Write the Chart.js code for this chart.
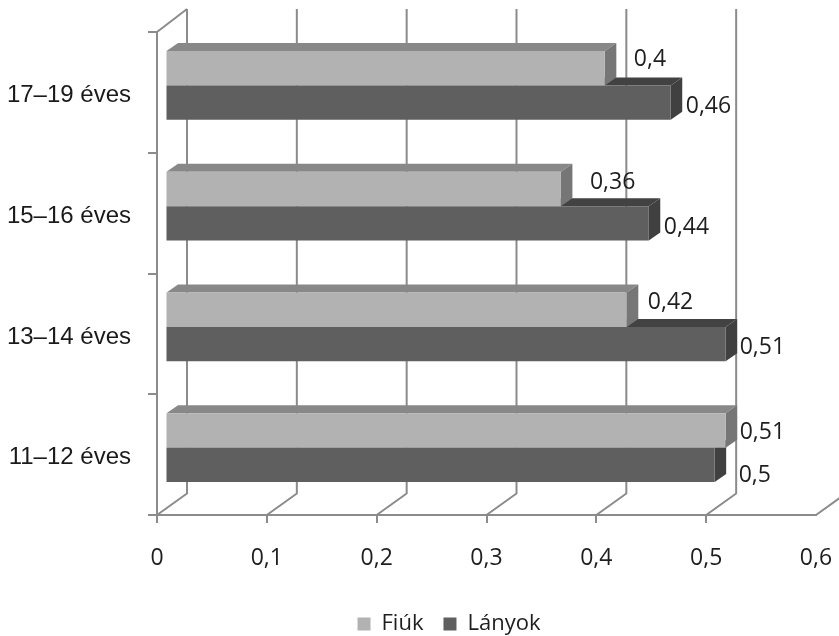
<!DOCTYPE html>
<html><head><meta charset="utf-8">
<style>html,body{margin:0;padding:0;background:#fff}canvas{display:block}</style>
<script src="https://cdn.jsdelivr.net/npm/chart.js@4"></script>
</head><body><canvas id="c" width="839" height="636"></canvas>
<script>
const categories = ['17–19 éves','15–16 éves','13–14 éves','11–12 éves'];
const fiuk = [0.4,0.36,0.42,0.51];
const lanyok = [0.46,0.44,0.51,0.5];
const xTicksMax = 0.6;

// 3D look, styling only
const wall = {dx:30, dy:-21.5, top:9};
const barShift = {dx:8.5, dy:-7};
const barDepth = {dx:11.5, dy:-8};
const lineColor = '#8b8b8b';
const legendShift = 41;
const faces = [
  {front:'#b2b2b2', top:'#888888', side:'#767676'},
  {front:'#5f5f5f', top:'#424242', side:'#404040'}
];
// data-label nudges from each bar's front right-centre: [dx, dy] per dataset/category
const labelNudge = [
  [[29,-9],[29,-6],[21,-7],[14,2]],
  [[15,4],[15,4],[14,3],[24,11]]
];
const labelFont = '23px "Open Sans"';
const fmt = v => String(Number(v.toFixed(2))).replace('.',',');

const threeD = {
  id:'threeD',
  afterLayout(chart){
    chart.legend.left += legendShift;
    chart.legend.right += legendShift;
  },
  beforeDatasetsDraw(chart){
    const {ctx,scales:{x,y},chartArea:a}=chart;
    ctx.save();
    ctx.strokeStyle=lineColor; ctx.lineWidth=2; ctx.lineJoin='round';
    const backY=a.bottom+wall.dy;
    // back wall + floor lines at every x tick
    x.ticks.forEach(t=>{
      const px=x.getPixelForValue(t.value);
      ctx.beginPath();
      ctx.moveTo(px,a.bottom);
      ctx.lineTo(px+wall.dx,backY);
      ctx.lineTo(px+wall.dx,wall.top);
      ctx.stroke();
    });
    // side-wall top edge
    ctx.beginPath();
    ctx.moveTo(a.left,a.top);
    ctx.lineTo(a.left+wall.dx,wall.top);
    ctx.stroke();
    ctx.restore();

    ctx.save();
    ctx.translate(barShift.dx,barShift.dy);
    // hidden faces first, lower series first so the upper one overlaps it
    for(let d=chart.data.datasets.length-1;d>=0;d--){
      const f=faces[d];
      chart.getDatasetMeta(d).data.forEach(b=>{
        const p=b.getProps(['x','y','base','height'],true);
        const t=p.y-p.height/2, bt=p.y+p.height/2;
        ctx.fillStyle=f.top;
        ctx.beginPath();
        ctx.moveTo(p.base,t);ctx.lineTo(p.base+barDepth.dx,t+barDepth.dy);
        ctx.lineTo(p.x+barDepth.dx,t+barDepth.dy);ctx.lineTo(p.x,t);ctx.closePath();ctx.fill();
        ctx.fillStyle=f.side;
        ctx.beginPath();
        ctx.moveTo(p.x,t);ctx.lineTo(p.x+barDepth.dx,t+barDepth.dy);
        ctx.lineTo(p.x+barDepth.dx,bt+barDepth.dy);ctx.lineTo(p.x,bt);ctx.closePath();ctx.fill();
      });
    }
    // the front faces are drawn by Chart.js in this shifted frame
  },
  afterDatasetsDraw(chart){
    const {ctx}=chart;
    ctx.restore();
    ctx.save();
    ctx.font=labelFont; ctx.fillStyle='#1e1e1e';
    ctx.textAlign='left'; ctx.textBaseline='middle';
    chart.data.datasets.forEach((ds,d)=>{
      chart.getDatasetMeta(d).data.forEach((b,i)=>{
        const p=b.getProps(['x','y'],true);
        const n=labelNudge[d][i];
        ctx.fillText(fmt(ds.data[i]),p.x+barShift.dx+n[0],p.y+barShift.dy+n[1]);
      });
    });
    ctx.restore();
  }
};

new Chart(document.getElementById('c'),{
  type:'bar',
  plugins:[threeD],
  data:{
    labels:categories,
    datasets:[
      {label:'Fiúk',data:fiuk,backgroundColor:faces[0].front,clip:false,borderWidth:0},
      {label:'Lányok',data:lanyok,backgroundColor:faces[1].front,clip:false,borderWidth:0}
    ]
  },
  options:{
    indexAxis:'y',
    responsive:false,
    animation:false,
    layout:{padding:{left:0,right:23,top:32,bottom:-9}},
    datasets:{bar:{categoryPercentage:0.57,barPercentage:1}},
    scales:{
      x:{
        min:0,max:xTicksMax,
        ticks:{stepSize:0.1,padding:22,maxRotation:0,color:'#1e1e1e',font:{family:'"Open Sans"',size:23},callback:v=>fmt(v)},
        grid:{drawOnChartArea:false,drawTicks:true,tickLength:8,lineWidth:2,color:lineColor,
              tickColor:c=>(c.tick&&c.tick.value>=xTicksMax-1e-6)?'rgba(0,0,0,0)':lineColor},
        border:{display:true,color:lineColor,width:2},
        afterFit(s){s.height=78;s.paddingRight=0;s.paddingLeft=0;}
      },
      y:{
        ticks:{padding:17,labelOffset:3,color:'#1a1a1a',font:{family:'"Liberation Sans"',size:24}},
        grid:{drawOnChartArea:false,drawTicks:true,tickLength:9,lineWidth:2,color:lineColor,tickColor:lineColor},
        border:{display:true,color:lineColor,width:2},
        afterFit(s){s.width=157;}
      }
    },
    plugins:{
      legend:{position:'bottom',labels:{boxWidth:13,boxHeight:13,padding:20,color:'#1e1e1e',font:{family:'"Open Sans"',size:22}}},
      tooltip:{enabled:false}
    }
  }
});
</script></body></html>
